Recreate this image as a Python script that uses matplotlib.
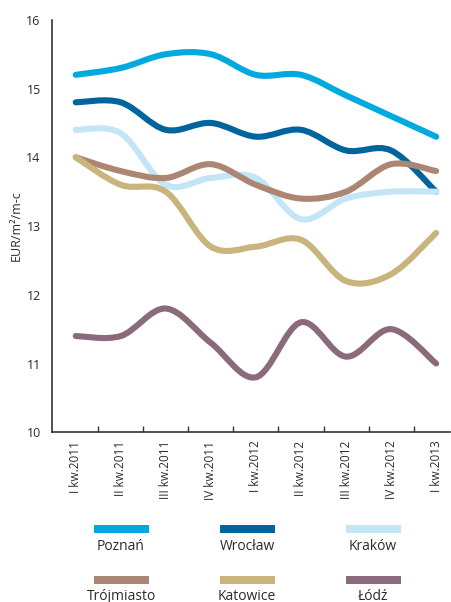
import numpy as np
import matplotlib
matplotlib.use("Agg")
import matplotlib.pyplot as plt
from matplotlib.path import Path
from matplotlib.patches import PathPatch, Rectangle

plt.rcParams['font.family'] = ['Open Sans', 'DejaVu Sans']

quarters = ["I kw.2011", "II kw.2011", "III kw.2011", "IV kw.2011", "I kw.2012",
            "II kw.2012", "III kw.2012", "IV kw.2012", "I kw.2013"]

poznan = [15.2, 15.3, 15.5, 15.5, 15.2, 15.2, 14.9, 14.6, 14.3]
wroclaw = [14.8, 14.8, 14.4, 14.5, 14.3, 14.4, 14.1, 14.1, 13.5]
krakow = [14.4, 14.35, 13.6, 13.7, 13.7, 13.1, 13.4, 13.5, 13.5]
trojmiasto = [14.0, 13.8, 13.7, 13.9, 13.6, 13.4, 13.5, 13.9, 13.8]
katowice = [14.0, 13.6, 13.5, 12.7, 12.7, 12.8, 12.2, 12.3, 12.9]
lodz = [11.4, 11.4, 11.8, 11.3, 10.8, 11.6, 11.1, 11.5, 11.0]

series = [
    ("Poznań", poznan, "#00AADF"),
    ("Wrocław", wroclaw, "#00659D"),
    ("Kraków", krakow, "#C2E6F6"),
    ("Trójmiasto", trojmiasto, "#AB8773"),
    ("Katowice", katowice, "#C9B47D"),
    ("Łódź", lodz, "#8B6A7B"),
]


def smooth_path(xs, ys):
    # Catmull-Rom style bezier through every point (spreadsheet "smoothed line")
    pts = np.column_stack([xs, ys]).astype(float)
    n = len(pts)
    verts = [pts[0]]
    codes = [Path.MOVETO]
    for i in range(n - 1):
        p0 = pts[max(i - 1, 0)]
        p1 = pts[i]
        p2 = pts[i + 1]
        p3 = pts[min(i + 2, n - 1)]
        c1 = p1 + (p2 - p0) / 6.0
        c2 = p2 - (p3 - p1) / 6.0
        verts += [c1, c2, p2]
        codes += [Path.CURVE4] * 3
    return Path(verts, codes)


fig = plt.figure(figsize=(4.51, 6.02), dpi=100)
ax = fig.add_axes([0.115, 0.282, 0.883, 0.685])

x = np.arange(len(quarters))
for name, vals, color in series:
    patch = PathPatch(smooth_path(x, vals), facecolor="none", edgecolor=color,
                      lw=4.4, capstyle="round", joinstyle="round")
    ax.add_patch(patch)

ax.set_xlim(-0.53, 8.31)
ax.set_ylim(10, 16)
ax.set_yticks(range(10, 17))
ax.set_xticks(x)
ax.set_xticklabels(quarters, rotation=90, fontsize=8.5, color="#2b2b2b")
ax.set_xticks(x[:-1] + 0.5, minor=True)
ax.tick_params(axis="x", which="major", length=0, pad=6)
ax.tick_params(axis="x", which="minor", length=4, direction="in", color="#333333", width=1)
ax.tick_params(axis="y", length=0, pad=8, labelsize=9, labelcolor="#2b2b2b")

for s in ("top", "right"):
    ax.spines[s].set_visible(False)
for s in ("left", "bottom"):
    ax.spines[s].set_color("#333333")
    ax.spines[s].set_linewidth(1.2)

ax.set_ylabel("EUR/m²/m-c", fontsize=9, color="#2b2b2b")
ax.yaxis.set_label_coords(-0.072, 0.5)

# legend: colour bar with the city name centred underneath
W, H = 451.0, 602.0
cols = [121, 247, 373]
rows = [(529, 546), (580, 596)]
for k, (name, vals, color) in enumerate(series):
    cx = cols[k % 3]
    by, ty = rows[k // 3]
    fig.patches.append(Rectangle(((cx - 27.5) / W, 1 - (by + 4) / H), 55 / W, 8 / H,
                                 transform=fig.transFigure, facecolor=color,
                                 edgecolor="none"))
    fig.text(cx / W, 1 - ty / H, name, ha="center", va="center",
             fontsize=10, color="#2b2b2b")

fig.savefig("out.png", dpi=100)
